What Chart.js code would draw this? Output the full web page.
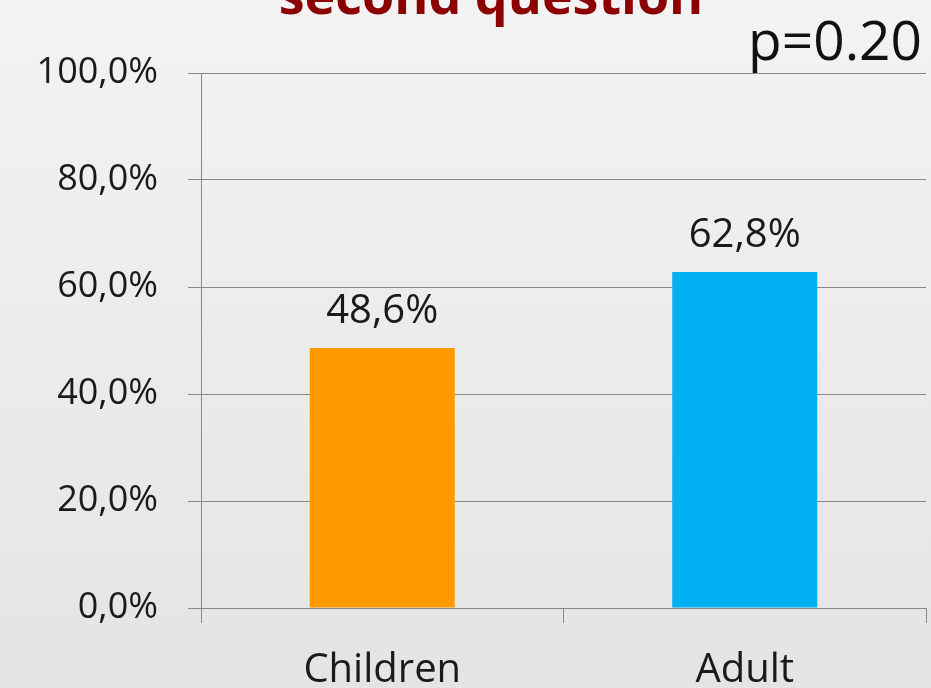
<!DOCTYPE html>
<html>
<head>
<meta charset="utf-8">
<script src="https://cdn.jsdelivr.net/npm/chart.js@4.4.1/dist/chart.umd.min.js"></script>
<style>
html,body{margin:0;padding:0;background:#ebebeb;overflow:hidden;}
canvas{display:block;}
</style>
</head>
<body>
<canvas id="c" width="931" height="688"></canvas>
<script>
const categories = ["Children", "Adult"];
const values = [48.6, 62.8];
const barColors = ["#FF9900", "#00B0F0"];
const yTicks = [0, 20, 40, 60, 80, 100];
const titleText = "second question";
const pText = "p=0.20";

const FONT = "'Open Sans', 'DejaVu Sans', sans-serif";
const fmt = v => v.toFixed(1).replace('.', ',') + '%';

const bgPlugin = {
  id: 'bg',
  beforeDraw(chart) {
    const ctx = chart.ctx;
    const g = ctx.createLinearGradient(0, 0, 0, chart.height);
    g.addColorStop(0, '#f3f3f3');
    g.addColorStop(1, '#e4e4e4');
    ctx.save();
    ctx.fillStyle = g;
    ctx.fillRect(0, 0, chart.width, chart.height);
    ctx.restore();
  }
};

const textPlugin = {
  id: 'texts',
  afterDatasetsDraw(chart) {
    const ctx = chart.ctx;
    ctx.save();
    const meta = chart.getDatasetMeta(0);
    ctx.fillStyle = '#1a1a1a';
    ctx.font = "40px " + FONT;
    ctx.textAlign = 'center';
    ctx.textBaseline = 'alphabetic';
    meta.data.forEach((bar, i) => {
      ctx.fillText(fmt(values[i]), bar.x, bar.y - 25);
    });
    ctx.fillStyle = '#8B0000';
    ctx.font = "bold 52px " + FONT;
    ctx.textAlign = 'center';
    ctx.fillText(titleText, 491, 14);
    ctx.fillStyle = '#111';
    ctx.font = "55px " + FONT;
    ctx.textAlign = 'right';
    ctx.fillText(pText, 922, 60);
    ctx.restore();
  }
};

new Chart(document.getElementById('c'), {
  type: 'bar',
  data: {
    labels: categories,
    datasets: [{
      data: values,
      backgroundColor: barColors,
      borderWidth: 0,
      barPercentage: 0.4,
      categoryPercentage: 1.0
    }]
  },
  options: {
    responsive: false,
    animation: false,
    layout: { padding: { top: 73, right: 5, left: 0, bottom: 0 } },
    plugins: { legend: { display: false }, tooltip: { enabled: false }, title: { display: false } },
    scales: {
      x: {
        offset: true,
        grid: { display: true, drawOnChartArea: false, drawTicks: true, tickLength: 15, color: '#888', offset: true },
        border: { display: true, color: '#888', width: 1 },
        ticks: { color: '#1a1a1a', font: { family: FONT, size: 40 }, padding: 24, maxRotation: 0 },
        afterFit(s) { s.height = 80; }
      },
      y: {
        min: 0, max: 100,
        afterBuildTicks(s) { s.ticks = yTicks.map(v => ({ value: v })); },
        grid: { color: '#888', lineWidth: 1, tickLength: 13, drawTicks: true },
        border: { display: true, color: '#888', width: 1 },
        ticks: { color: '#1a1a1a', font: { family: FONT, size: 36 }, padding: 30, callback: v => fmt(v) },
        afterFit(s) { s.width = 201; }
      }
    }
  },
  plugins: [bgPlugin, textPlugin]
});
</script>
</body>
</html>
